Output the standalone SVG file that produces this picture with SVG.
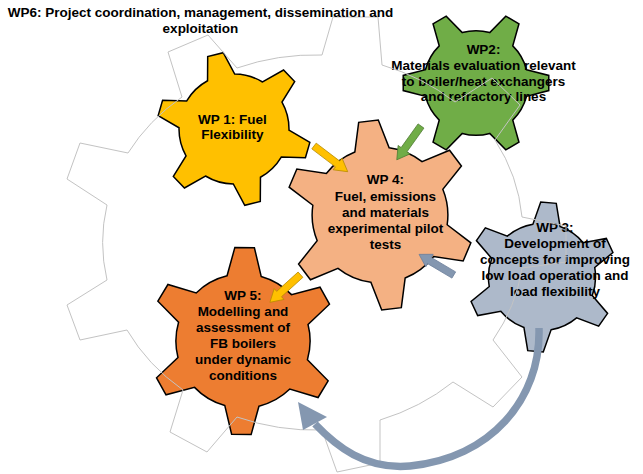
<svg xmlns="http://www.w3.org/2000/svg" width="643" height="474" viewBox="0 0 643 474">
<style>
.gear{stroke:#000;stroke-width:1.5;stroke-linejoin:miter}
.lbl{font-family:"Liberation Sans",Arial,sans-serif;font-weight:bold;font-size:13.5px;fill:#000;text-anchor:middle}
.big{fill:none;stroke:#c3c3c3;stroke-width:1}
.arr{stroke-width:0.8}
</style>
<defs>
<path id="g6" vector-effect="non-scaling-stroke" d="M53.19,-14 L76.6,-8 L76.6,8 L53.19,14 A55,55 0 0 1 38.72,39.06 L45.23,62.34 L31.37,70.34 L14.48,53.06 A55,55 0 0 1 -14.48,53.06 L-31.37,70.34 L-45.23,62.34 L-38.72,39.06 A55,55 0 0 1 -53.19,14 L-76.6,8 L-76.6,-8 L-53.19,-14 A55,55 0 0 1 -38.72,-39.06 L-45.23,-62.34 L-31.37,-70.34 L-14.48,-53.06 A55,55 0 0 1 14.48,-53.06 L31.37,-70.34 L45.23,-62.34 L38.72,-39.06 A55,55 0 0 1 53.19,-14 Z"/>
<polygon id="ba" vector-effect="non-scaling-stroke" points="0,-3.6 28,-3.6 28,-7.3 40,0 28,7.3 28,3.6 0,3.6"/>
</defs>

<g id="wp1">
<use href="#g6" class="gear" fill="#FFC000" transform="translate(234,129) rotate(16)"/>
<text class="lbl" x="232.5" y="123.5">WP 1: Fuel</text>
<text class="lbl" x="232.5" y="138.5">Flexibility</text>
</g>

<g id="wp2">
<use href="#g6" class="gear" fill="#70AD47" transform="translate(476,83) scale(0.95)"/>
<text class="lbl" x="483.5" y="53.5">WP2:</text>
<text class="lbl" x="483.5" y="69.5">Materials evaluation relevant</text>
<text class="lbl" x="483.5" y="85.5">to boiler/heat exchangers</text>
<text class="lbl" x="483.5" y="101">and refractory lines</text>
</g>

<g id="wp4">
<use href="#g6" class="gear" fill="#F4B183" transform="translate(380,215) rotate(23) scale(1.234)"/>
<text class="lbl" x="385.5" y="184">WP 4:</text>
<text class="lbl" x="385.5" y="200.5">Fuel, emissions</text>
<text class="lbl" x="385.5" y="216.5">and materials</text>
<text class="lbl" x="385.5" y="232.5">experimental pilot</text>
<text class="lbl" x="385.5" y="248.5">tests</text>
</g>

<g id="wp5">
<use href="#g6" class="gear" fill="#ED7D31" transform="translate(243,341) rotate(31) scale(1.22)"/>
<text class="lbl" x="243" y="299.5">WP 5:</text>
<text class="lbl" x="243" y="315.5">Modelling and</text>
<text class="lbl" x="243" y="331.5">assessment of</text>
<text class="lbl" x="243" y="347.5">FB boilers</text>
<text class="lbl" x="243" y="363.5">under dynamic</text>
<text class="lbl" x="243" y="379.5">conditions</text>
</g>

<g id="wp3">
<use href="#g6" class="gear" fill="#ADB9CA" transform="translate(542,277) rotate(35) scale(0.974)"/>
<text class="lbl" x="555" y="232">WP 3:</text>
<text class="lbl" x="555" y="248">Development of</text>
<text class="lbl" x="555" y="264">concepts for improving</text>
<text class="lbl" x="555" y="280">low load operation and</text>
<text class="lbl" x="555" y="296">load flexibility</text>
</g>

<g id="wp6">
<path class="big" d="M128,153 A212,186 0 0 1 182,97 L168,52 L208,35 L237,68 A212,186 0 0 1 322,55 L333,17 L378,17 L382,65 A212,186 0 0 1 455,102 L492,78 L520,105 L495,140 A212,186 0 0 1 522,217 L566,226 L566,262 L522,268 A212,186 0 0 1 493,340 L522,377 L493,407 L453,382 A212,186 0 0 1 380,420 L380,463 L337,472 L322,430 A212,186 0 0 1 237,417 L207,452 L170,432 L183,390 A212,186 0 0 1 127,330 L80,340 L67,305 L107,280 A212,186 0 0 1 107,205 L67,179 L80,143 Z"/>
<text class="lbl" x="200.5" y="17">WP6: Project coordination, management, dissemination and</text>
<text class="lbl" x="200.5" y="33">exploitation</text>
</g>

<g id="connectors">
<use href="#ba" class="arr" fill="#FFC000" stroke="#B58A00" transform="translate(314,146) rotate(37.3) scale(1.06,1)"/>
<use href="#ba" class="arr" fill="#70AD47" stroke="#4E7A32" transform="translate(421,126) rotate(125.6) scale(1.04,1)"/>
<use href="#ba" class="arr" fill="#FFC000" stroke="#B58A00" transform="translate(300.5,274.7) rotate(137.9) scale(1.03,1)"/>
<use href="#ba" class="arr" fill="#8497B0" stroke="#6B7E99" transform="translate(453.8,275) rotate(210.7) scale(1.01,1)"/>
<path d="M539,328 C541,400 490,458 410,466 C365,470 336,446 315,424" fill="none" stroke="#8497B0" stroke-width="7.5"/>
<polygon points="298,402 327,417 303,430" fill="#8497B0"/>
</g>
</svg>
